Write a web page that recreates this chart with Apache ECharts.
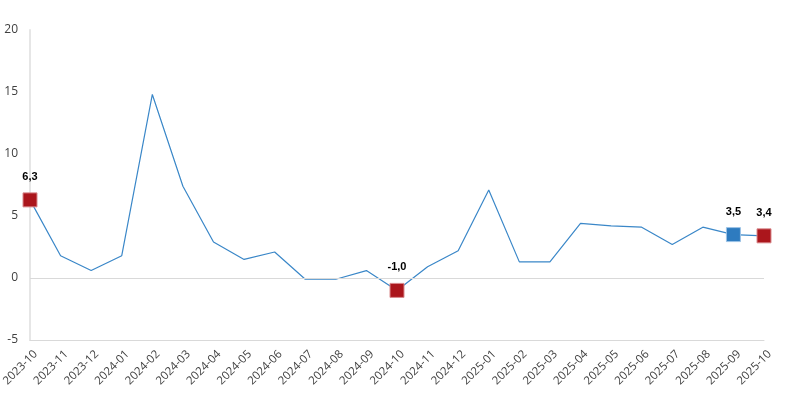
<!DOCTYPE html>
<html>
<head>
<meta charset="utf-8">
<script src="https://cdn.jsdelivr.net/npm/echarts@6/dist/echarts.min.js"></script>
<style>html,body{margin:0;padding:0;background:#fff}#c{width:785px;height:402px}</style>
</head>
<body>
<div id="c"></div>
<script>
const categories = ['2023-10','2023-11','2023-12','2024-01','2024-02','2024-03','2024-04','2024-05','2024-06','2024-07','2024-08','2024-09','2024-10','2024-11','2024-12','2025-01','2025-02','2025-03','2025-04','2025-05','2025-06','2025-07','2025-08','2025-09','2025-10'];
const values = [6.3,1.8,0.6,1.8,14.8,7.4,2.9,1.5,2.1,-0.1,-0.1,0.6,-1.0,0.9,2.2,7.1,1.3,1.3,4.4,4.2,4.1,2.7,4.1,3.5,3.4];
const highlightRed = [0,12,24];
const highlightBlue = [23];
const yTicks = [-5,0,5,10,15,20];

const data = values.map((v,i)=>{
  const isRed = highlightRed.includes(i), isBlue = highlightBlue.includes(i);
  if (!isRed && !isBlue) return {value:v};
  return {
    value:v, symbol:'rect', symbolSize:14,
    itemStyle:{color: isRed ? '#AB161C' : '#2E7BBF', borderColor: isRed ? '#d98a8d' : '#9cc3e6', borderWidth:1},
    label:{show:true, position:'top', distance:10, formatter: p => p.value.toFixed(1).replace('.',','),
      color:'#000', fontWeight:'bold', fontSize:11, fontFamily:'Liberation Sans, Arial, sans-serif'}
  };
});

const chart = echarts.init(document.getElementById('c'), null, {renderer:'canvas'});
chart.setOption({
  animation:false,
  grid:{left:30,right:21,top:30,bottom:62,containLabel:false,outerBoundsMode:'none'},
  xAxis:{type:'category',data:categories,boundaryGap:false,
    axisLine:{onZero:false,lineStyle:{color:'#d9d9d9',width:1}},
    axisTick:{show:false},
    axisLabel:{rotate:45,color:'#404040',fontSize:11.5,fontFamily:'Open Sans, sans-serif',margin:18,padding:[0,-8,0,0],interval:0}},
  yAxis:{type:'value',min:yTicks[0],max:yTicks[yTicks.length-1],interval:5,
    axisLine:{show:true,lineStyle:{color:'#e6e6e6',width:2}},
    axisTick:{show:false},splitLine:{show:false},
    axisLabel:{color:'#404040',fontSize:12,fontFamily:'Open Sans, sans-serif',margin:12}},
  series:[{type:'line',data:data,symbol:'none',showSymbol:true,
    lineStyle:{color:'#3A87C8',width:1.2},
    itemStyle:{color:'#3A87C8'},
    z:3,
    markLine:{silent:true,symbol:'none',label:{show:false},
      lineStyle:{color:'#d9d9d9',type:'solid',width:1},
      data:[{yAxis:0}]}}]
});
</script>
</body>
</html>
